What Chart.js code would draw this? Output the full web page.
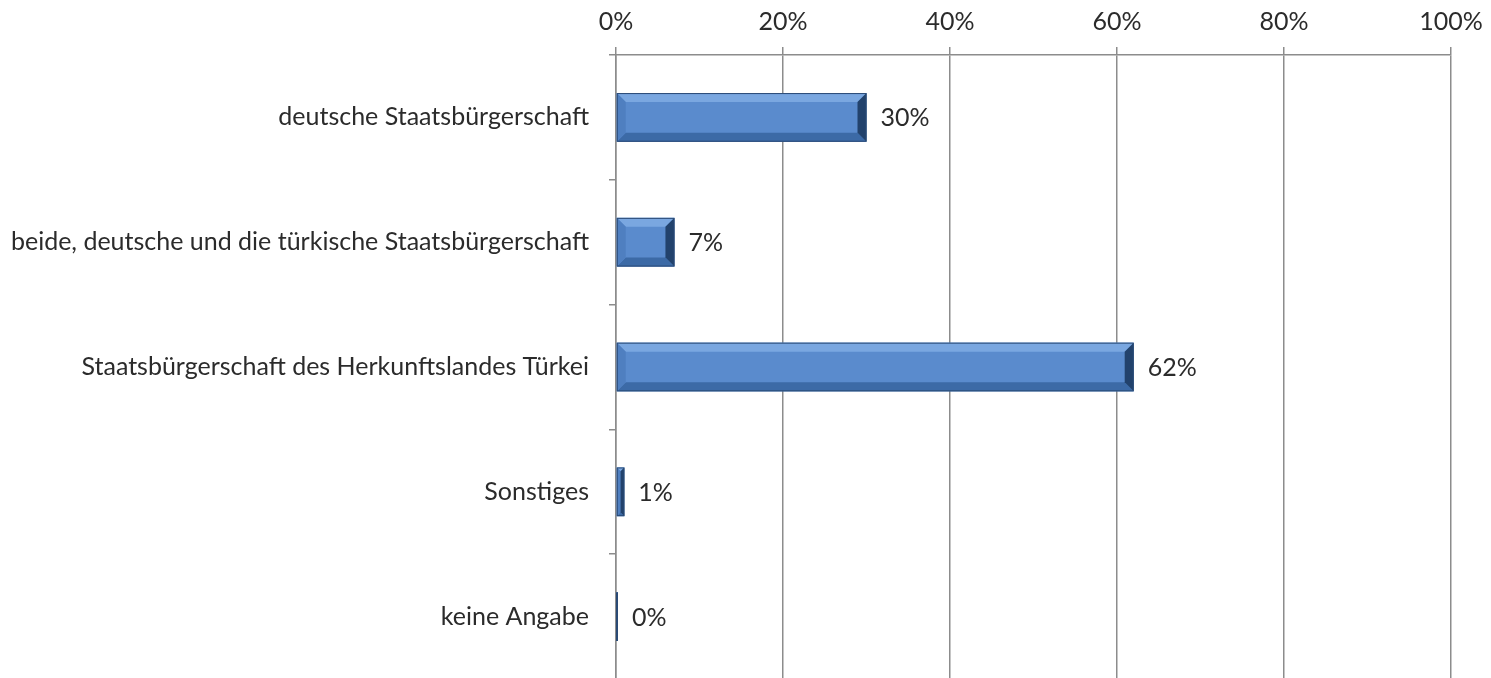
<!DOCTYPE html>
<html>
<head>
<meta charset="utf-8">
<script src="https://cdn.jsdelivr.net/npm/chart.js@4"></script>
<style>
  html, body { margin: 0; padding: 0; background: #fff; overflow: hidden; }
  canvas { display: block; }
</style>
</head>
<body>
<canvas id="myChart" width="1491" height="714"></canvas>
<script>
const categories = [
  'deutsche Staatsbürgerschaft',
  'beide, deutsche und die türkische Staatsbürgerschaft',
  'Staatsbürgerschaft des Herkunftslandes Türkei',
  'Sonstiges',
  'keine Angabe'
];
const shares = [30, 7, 62, 1, 0];
const shareLabels = ['30%', '7%', '62%', '1%', '0%'];
const tickValues = [0, 20, 40, 60, 80, 100];

const FONT = 'Lato, "Open Sans", sans-serif';
const TEXT = '#2b2b2b';
const GRID = '#8c8c8c';

// office-style bevelled bars plus value labels
const bevelBars = {
  id: 'bevelBars',
  afterDatasetsDraw(chart) {
    const ctx = chart.ctx;
    const meta = chart.getDatasetMeta(0);
    meta.data.forEach((bar, i) => {
      const p = bar.getProps(['x', 'y', 'base', 'height'], true);
      const left = p.base;
      const right = Math.max(p.x, p.base + 2);
      const top = p.y - p.height / 2;
      const bottom = p.y + p.height / 2;
      const w = right - left;
      const b = Math.min(9, w / 2);

      ctx.save();
      ctx.fillStyle = '#5a8bcd';
      ctx.fillRect(left, top, w, bottom - top);

      const poly = (pts, color) => {
        ctx.beginPath();
        ctx.moveTo(pts[0][0], pts[0][1]);
        for (let k = 1; k < pts.length; k++) ctx.lineTo(pts[k][0], pts[k][1]);
        ctx.closePath();
        ctx.fillStyle = color;
        ctx.fill();
      };
      // top
      poly([[left, top], [right, top], [right - b, top + b], [left + b, top + b]], '#7aa7e0');
      // bottom
      poly([[left, bottom], [right, bottom], [right - b, bottom - b], [left + b, bottom - b]], '#3c6aa6');
      // left
      poly([[left, top], [left + b, top + b], [left + b, bottom - b], [left, bottom]], '#4f7fc0');
      // right
      poly([[right, top], [right - b, top + b], [right - b, bottom - b], [right, bottom]], '#22426c');

      ctx.strokeStyle = '#2a4a75';
      ctx.lineWidth = 1;
      ctx.strokeRect(left + 0.5, top + 0.5, w - 1, bottom - top - 1);

      ctx.fillStyle = TEXT;
      ctx.font = '25px ' + FONT;
      ctx.textAlign = 'left';
      ctx.textBaseline = 'middle';
      ctx.fillText(shareLabels[i], right + 14, p.y + 1);
      ctx.restore();
    });
  }
};

new Chart(document.getElementById('myChart'), {
  type: 'bar',
  data: {
    labels: categories,
    datasets: [{
      data: shares,
      backgroundColor: 'rgba(0,0,0,0)',
      borderWidth: 0,
      categoryPercentage: 1,
      barPercentage: 0.39
    }]
  },
  options: {
    indexAxis: 'y',
    responsive: false,
    animation: false,
    layout: { padding: { top: 0, right: 40, bottom: 4, left: 0 } },
    plugins: { legend: { display: false }, tooltip: { enabled: false } },
    scales: {
      x: {
        position: 'top',
        min: 0,
        max: 100,
        afterBuildTicks: (scale) => { scale.ticks = tickValues.map(v => ({ value: v })); },
        afterFit: (scale) => {
          scale.height = 55;
          scale.paddingLeft = 0;
          scale.paddingRight = 0;
        },
        ticks: {
          callback: (v) => v + '%',
          color: TEXT,
          font: { family: FONT, size: 25 },
          padding: 10,
          maxRotation: 0
        },
        grid: { color: GRID, lineWidth: 1.5, tickLength: 8, tickColor: GRID },
        border: { color: GRID, width: 1.5 }
      },
      y: {
        afterFit: (scale) => { scale.width = 616; },
        ticks: {
          color: TEXT,
          font: { family: FONT, size: 25 },
          padding: 20
        },
        grid: { drawOnChartArea: false, tickLength: 7, tickColor: GRID, lineWidth: 1.5 },
        border: { color: GRID, width: 1.5 }
      }
    }
  },
  plugins: [bevelBars]
});
</script>
</body>
</html>
